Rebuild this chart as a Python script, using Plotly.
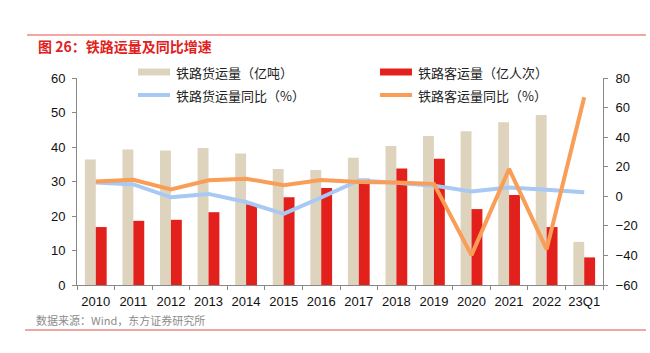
import plotly.graph_objects as go

categories = ["2010", "2011", "2012", "2013", "2014", "2015", "2016",
              "2017", "2018", "2019", "2020", "2021", "2022", "23Q1"]
freight_volume = [36.4, 39.3, 39.0, 39.7, 38.1, 33.6, 33.3, 36.9, 40.3, 43.2, 44.6, 47.2, 49.3, 12.5]
passenger_volume = [16.8, 18.6, 18.9, 21.1, 23.4, 25.4, 28.1, 30.8, 33.8, 36.6, 22.0, 26.1, 16.8, 8.0]
freight_yoy = [9.3, 8.0, -0.7, 1.6, -3.9, -11.9, -0.8, 10.7, 9.1, 7.2, 3.2, 5.9, 4.4, 2.7]
passenger_yoy = [10.0, 11.1, 4.7, 10.8, 11.9, 7.5, 11.0, 9.6, 9.4, 8.4, -39.8, 18.5, -35.9, 67.0]

names = ["铁路货运量（亿吨）", "铁路客运量（亿人次）", "铁路货运量同比（%）", "铁路客运量同比（%）"]
colors = ["#DED4BE", "#E2211C", "#A8C9F4", "#F99D57"]

FONT = "Liberation Sans, Arial, Noto Sans CJK SC, sans-serif"
CJK = "Noto Sans CJK SC, Liberation Sans, sans-serif"

fig = go.Figure()
fig.add_trace(go.Bar(x=categories, y=freight_volume, name=names[0], marker_color=colors[0],
                     marker_line_width=0, yaxis="y"))
fig.add_trace(go.Bar(x=categories, y=passenger_volume, name=names[1], marker_color=colors[1],
                     marker_line_width=0, yaxis="y"))
fig.add_trace(go.Scatter(x=categories, y=freight_yoy, name=names[2], mode="lines",
                         line=dict(color=colors[2], width=4), yaxis="y2"))
fig.add_trace(go.Scatter(x=categories, y=passenger_yoy, name=names[3], mode="lines",
                         line=dict(color=colors[3], width=4), yaxis="y2"))

axis_common = dict(showline=True, linecolor="#888888", linewidth=1, ticks="outside",
                   ticklen=4, tickcolor="#888888", showgrid=False, zeroline=False)

fig.update_layout(
    width=650, height=353,
    margin=dict(l=77, r=47, t=78, b=68),
    paper_bgcolor="white", plot_bgcolor="white",
    barmode="group", bargap=0.42, bargroupgap=0,
    showlegend=False,
    xaxis=dict(type="category", tickson="boundaries", tickangle=0, ticklabelstandoff=4,
               tickfont=dict(family=FONT, size=13, color="#111111"), **axis_common),
    yaxis=dict(range=[0, 60], dtick=10, ticklabelstandoff=4,
               tickfont=dict(family=FONT, size=13, color="#111111"), **axis_common),
    yaxis2=dict(range=[-60, 80], dtick=20, overlaying="y", side="right", ticklabelstandoff=5,
                tickfont=dict(family=FONT, size=13, color="#111111"), **axis_common),
)

shapes = []
annotations = []
# top and bottom decorative rules
shapes.append(dict(type="line", xref="paper", yref="paper", x0=-50/526, x1=569/526,
                   y0=1 + 43/207, y1=1 + 43/207, line=dict(color="#F4A6A4", width=2)))
shapes.append(dict(type="line", xref="paper", yref="paper", x0=-52/526, x1=569/526,
                   y0=-45/207, y1=-45/207, line=dict(color="#D9534F", width=1)))
annotations.append(dict(text="<b>图 26：铁路运量及同比增速</b>", xref="paper", yref="paper",
                        x=-41/526, y=1 + 32/207, xanchor="left", yanchor="middle", showarrow=False,
                        font=dict(family=CJK, size=14, color="#E2211C")))
annotations.append(dict(text="数据来源：Wind，东方证券研究所", xref="paper", yref="paper",
                        x=-43/526, y=-35/207, xanchor="left", yanchor="middle", showarrow=False,
                        font=dict(family=CJK, size=11, color="#8C8C8C")))

# manual legend
pw, ph = 526, 207
legend_items = [
    (0, 138, 72, "bar"), (1, 380, 72, "bar"),
    (2, 138, 95, "line"), (3, 380, 95, "line"),
]
for idx, x0px, ypx, kind in legend_items:
    xa = (x0px - 77) / pw
    xb = (x0px + 32 - 77) / pw
    yy = (285 - ypx) / ph
    if kind == "bar":
        shapes.append(dict(type="rect", xref="paper", yref="paper", x0=xa, x1=xb,
                           y0=yy - 3.5/ph, y1=yy + 3.5/ph, fillcolor=colors[idx], line=dict(width=0)))
    else:
        shapes.append(dict(type="line", xref="paper", yref="paper", x0=xa, x1=xb,
                           y0=yy, y1=yy, line=dict(color=colors[idx], width=4)))
    annotations.append(dict(text=names[idx], xref="paper", yref="paper",
                            x=(x0px + 36 - 77) / pw, y=yy, xanchor="left", yanchor="middle",
                            showarrow=False, font=dict(family=CJK, size=13, color="#222222")))

fig.update_layout(shapes=shapes, annotations=annotations)
fig.write_html("out.html")
